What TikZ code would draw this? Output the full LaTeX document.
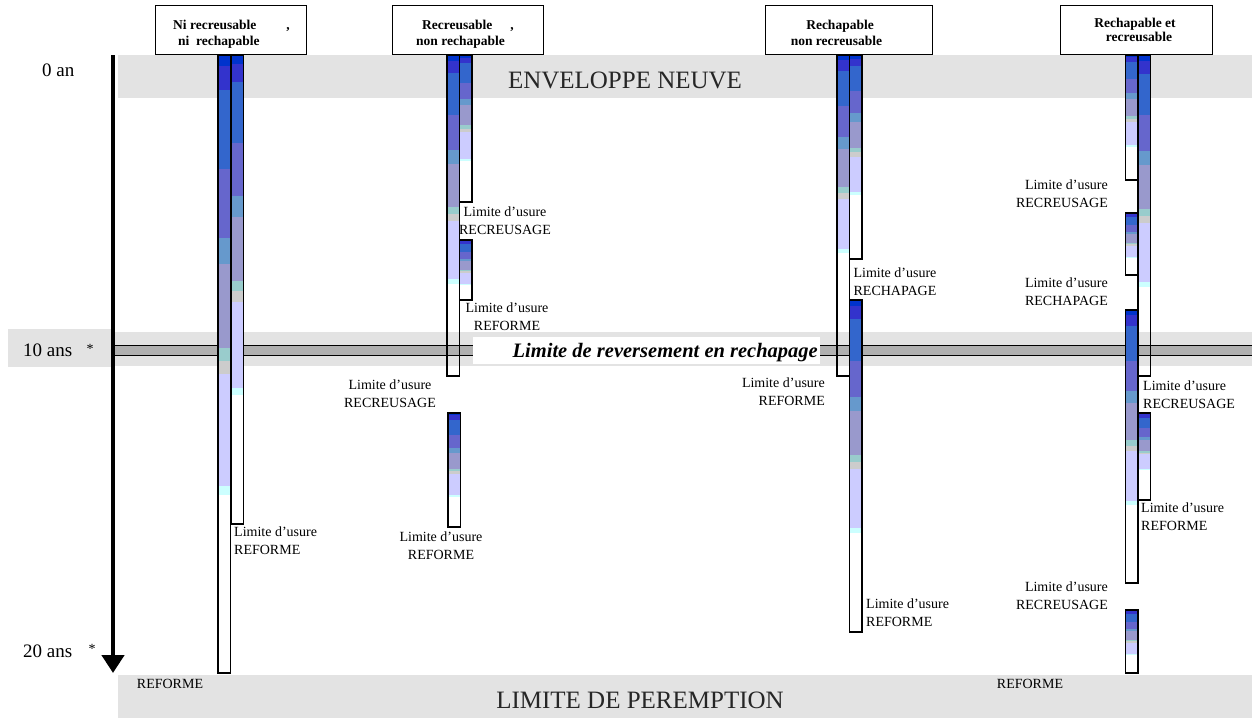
\documentclass[tikz,border=0pt]{standalone}
\usepackage{fontspec}
\setmainfont{Liberation Serif}
\usetikzlibrary{arrows.meta}
\definecolor{cA}{HTML}{0033CC}
\definecolor{cB}{HTML}{3333CC}
\definecolor{cC}{HTML}{3366CC}
\definecolor{cD}{HTML}{6666CC}
\definecolor{cE}{HTML}{6699CC}
\definecolor{cF}{HTML}{9999CC}
\definecolor{cG}{HTML}{99CCCC}
\definecolor{cH}{HTML}{CCCCCC}
\definecolor{cI}{HTML}{CCCCFF}
\definecolor{cJ}{HTML}{CCFFFF}
\definecolor{bandgray}{HTML}{E3E3E3}
\definecolor{linegray}{HTML}{B0B0B0}
\tikzset{
  barline/.style={draw=black, line width=1.1pt},
  hdr/.style={draw=black, line width=1pt, fill=white, inner sep=0},
  hdrtxt/.style={font=\fontsize{13.5}{16}\selectfont\bfseries, inner sep=0},
  lbl/.style={font=\fontsize{14}{17.5}\selectfont, inner sep=0},
  axlbl/.style={font=\fontsize{19}{22}\selectfont, inner sep=0},
  big/.style={font=\fontsize{25}{28}\selectfont, inner sep=0, text=black!85},
}
\newcommand\tirebar[4]{%
  \foreach \cc/\fa/\fb in {cA/0/0.025,cB/0.025/0.08,cC/0.08/0.26,cD/0.26/0.415,cE/0.415/0.475,cF/0.475/0.665,cG/0.665/0.695,cH/0.695/0.725,cI/0.725/0.98,cJ/0.98/1}{%
    \fill[fill=\cc] (#1,{#2+\fa*#4}) rectangle ({#1+12.5},{#2+\fb*#4});
  }%
  \draw[barline] (#1,#2) rectangle ({#1+12.5},#3);
}
\begin{document}
\begin{tikzpicture}[x=1pt,y=-1pt]
\useasboundingbox (0,0) rectangle (1252,718);
% bands
\fill[bandgray] (118,55) rectangle (1252,98);
\fill[bandgray] (115,332) rectangle (1252,366);
\fill[bandgray] (8,329) rectangle (112,367);
\fill[bandgray] (118,675) rectangle (1252,718);
% 10 ans line
\fill[linegray] (115,345) rectangle (1252,355);
\draw[line width=1pt] (115,345) -- (1252,345) (115,355) -- (1252,355);
\node[fill=white, minimum width=347pt, minimum height=27pt, inner sep=0] (rev) at (646.5,350.5) {};
\node[font=\fontsize{20.5}{24}\selectfont\bfseries\itshape, inner sep=0, anchor=base east] (revt) at (818,357) {Limite de reversement en rechapage};
% big labels
\node[big] (env) at (625,80) {ENVELOPPE NEUVE};
\node[big] (per) at (640,700) {LIMITE DE PEREMPTION};
\node[lbl] (r1) at (170,684) {REFORME};
\node[lbl] (r2) at (1030,684) {REFORME};
% axis
\draw[line width=4.5pt, -{Triangle[width=22pt,length=18pt]}] (113,55) -- (113,673);
\node[axlbl, anchor=base west] (a0) at (42,76) {0 an};
\node[axlbl, anchor=base west] (a10) at (23,356) {10 ans};
\node[lbl] (s10) at (90,349) {*};
\node[axlbl, anchor=base west] (a20) at (23,657) {20 ans};
\node[lbl] (s20) at (92,649) {*};
% headers
\node[hdr, minimum width=151pt, minimum height=49pt] (h1) at (231,29.5) {};
\node[hdrtxt, anchor=base west] (h1a) at (173,29) {Ni recreusable};
\node[hdrtxt, anchor=base] (h1c) at (288,29) {,};
\node[hdrtxt, anchor=base west] (h1b) at (178,45) {ni\ \ rechapable};
\node[hdr, minimum width=151pt, minimum height=49pt] (h2) at (467.5,29.5) {};
\node[hdrtxt, anchor=base west] (h2a) at (422,29) {Recreusable};
\node[hdrtxt, anchor=base] (h2c) at (512,29) {,};
\node[hdrtxt, anchor=base west] (h2b) at (416,45) {non rechapable};
\node[hdr, minimum width=167pt, minimum height=49pt] (h3) at (848.5,29.5) {};
\node[hdrtxt, anchor=base] (h3a) at (840,29) {Rechapable};
\node[hdrtxt, anchor=base] (h3b) at (836.5,45) {non recreusable};
\node[hdr, minimum width=152pt, minimum height=49pt] (h4) at (1136,29.5) {};
\node[hdrtxt, anchor=base] (h4a) at (1135,27) {Rechapable et};
\node[hdrtxt, anchor=base] (h4b) at (1139,41) {recreusable};
% bars column 1
\tirebar{218}{55}{673}{440}
\tirebar{231}{55}{524}{340}
% column 2
\tirebar{447}{55}{376}{229}
\tirebar{459.5}{55}{202}{106}
\tirebar{459.5}{240}{300}{45}
\tirebar{448}{413}{527}{84}
% column 3
\tirebar{837}{55}{376}{198}
\tirebar{849.5}{55}{259}{140}
\tirebar{849.5}{300}{632}{233}
% column 4
\tirebar{1138}{55}{376}{232}
\tirebar{1125.5}{55}{180}{92}
\tirebar{1125.5}{213}{275}{45}
\tirebar{1125.5}{310}{583}{195}
\tirebar{1138}{413}{500}{57}
\tirebar{1125.5}{610}{673}{45}
% labels
\node[lbl, anchor=north west, align=left] (l1) at (234,527) {Limite d'usure\\REFORME};
\node[lbl, anchor=north, align=center] (l2) at (505,207) {Limite d'usure\\RECREUSAGE};
\node[lbl, anchor=north, align=center] (l3) at (507,303) {Limite d'usure\\REFORME};
\node[lbl, anchor=north, align=center] (l4) at (390,380) {Limite d'usure\\RECREUSAGE};
\node[lbl, anchor=north, align=center] (l5) at (441,532) {Limite d'usure\\REFORME};
\node[lbl, anchor=north, align=center] (l6) at (895,268) {Limite d'usure\\RECHAPAGE};
\node[lbl, anchor=north east, align=right] (l7) at (825,378) {Limite d'usure\\REFORME};
\node[lbl, anchor=north west, align=left] (l8) at (866,599) {Limite d'usure\\REFORME};
\node[lbl, anchor=north east, align=right] (l9) at (1108,180) {Limite d'usure\\RECREUSAGE};
\node[lbl, anchor=north east, align=right] (l10) at (1108,278) {Limite d'usure\\RECHAPAGE};
\node[lbl, anchor=north west, align=left] (l11) at (1143,381) {Limite d'usure\\RECREUSAGE};
\node[lbl, anchor=north west, align=left] (l12) at (1141,503) {Limite d'usure\\REFORME};
\node[lbl, anchor=north east, align=right] (l13) at (1108,582) {Limite d'usure\\RECREUSAGE};
\end{tikzpicture}
\end{document}
